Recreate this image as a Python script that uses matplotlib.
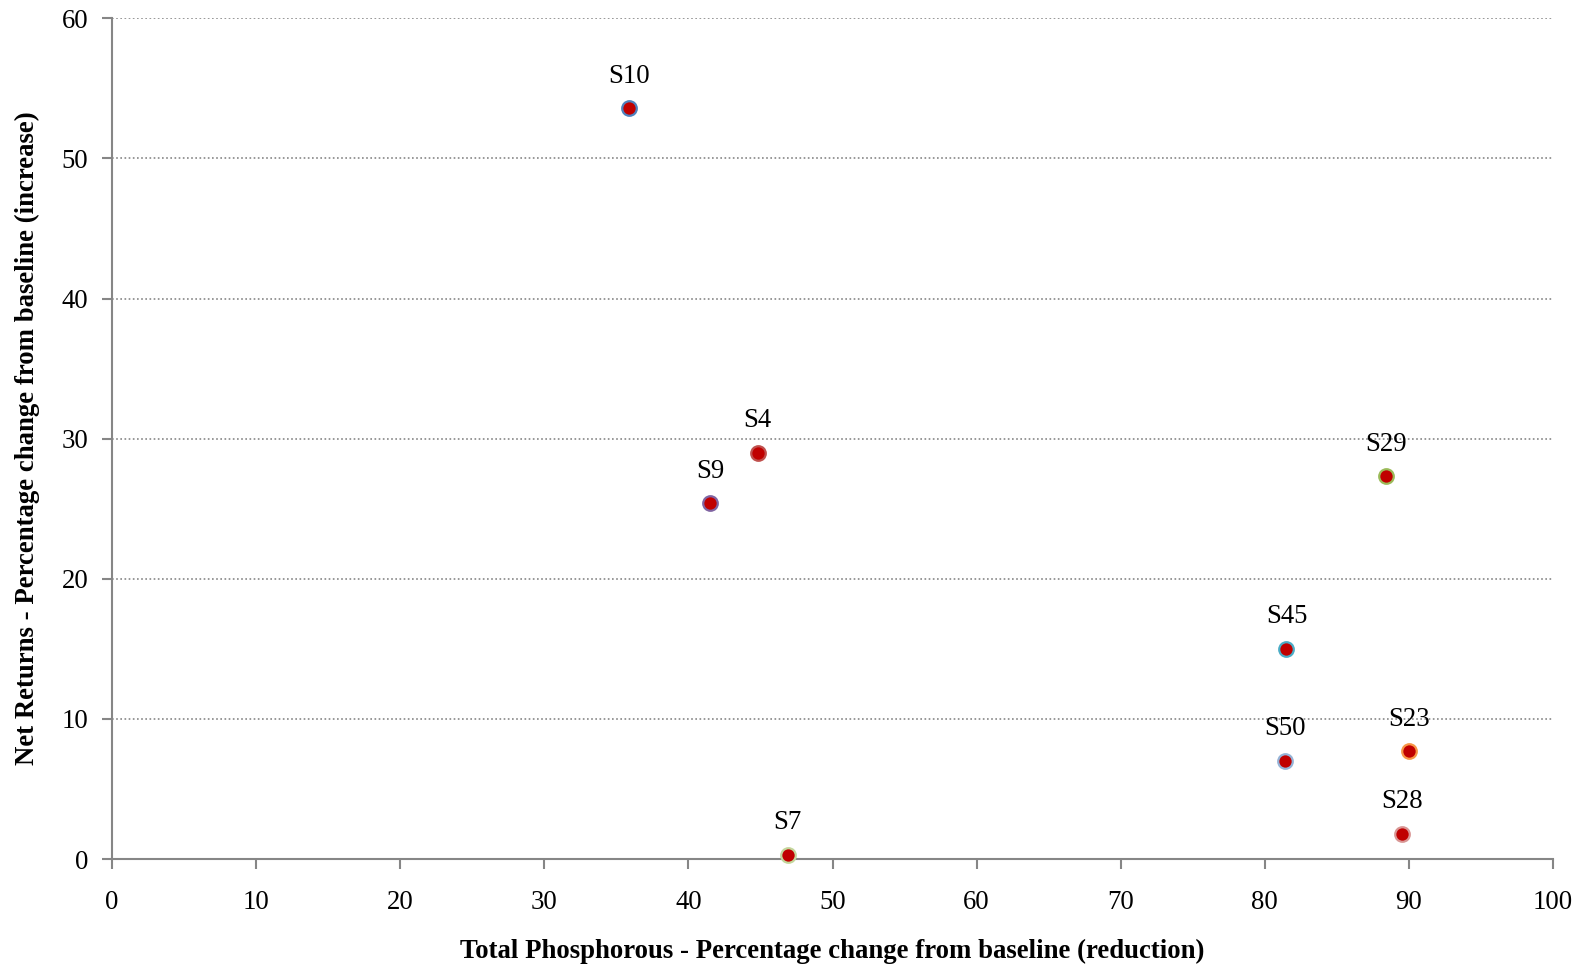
import matplotlib
matplotlib.use("Agg")
import matplotlib.pyplot as plt

# scenario results
labels = ["S10", "S4", "S9", "S29", "S45", "S50", "S23", "S28", "S7"]
tp_reduction = [35.9, 44.8, 41.5, 88.4, 81.5, 81.4, 90.0, 89.5, 46.9]
net_returns = [53.6, 29.0, 25.4, 27.3, 15.0, 7.0, 7.7, 1.8, 0.3]
edge_colors = ["#4F81BD", "#C0504D", "#8064A2", "#9BBB59", "#4BACC6",
               "#95B3D7", "#F79646", "#D99694", "#C3D69B"]

plt.rcParams["font.family"] = ["Liberation Serif", "DejaVu Serif"]

fig = plt.figure(figsize=(15.95, 9.68), dpi=100)
ax = fig.add_axes([0.0702, 0.1126, 0.9035, 0.8685])

for x, y, lab, ec in zip(tp_reduction, net_returns, labels, edge_colors):
    ax.scatter(x, y, s=110, color="#C00000", edgecolors=ec, linewidths=1.6,
               zorder=3, clip_on=False)
    ax.annotate(lab, (x, y), xytext=(0, 23), textcoords="offset points",
                ha="center", va="center", fontsize=19.3)

ax.set_xlim(0, 100)
ax.set_ylim(0, 60)
ax.set_xticks(range(0, 101, 10))
ax.set_yticks(range(0, 61, 10))
ax.tick_params(labelsize=19.3, color="#868686", length=7, width=1.5)
ax.tick_params(axis="x", pad=15)
ax.tick_params(axis="y", pad=10)

ax.grid(axis="y", linestyle=(0, (1, 1.5)), color="#868686", linewidth=1.2)
ax.set_axisbelow(True)
for side in ["top", "right"]:
    ax.spines[side].set_visible(False)
for side in ["left", "bottom"]:
    ax.spines[side].set_color("#868686")
    ax.spines[side].set_linewidth(1.5)

ax.set_xlabel("Total Phosphorous - Percentage change from baseline (reduction)",
              fontsize=19.3, fontweight="bold")
ax.set_ylabel("Net Returns - Percentage change from baseline (increase)",
              fontsize=19.3, fontweight="bold")
ax.xaxis.label.set_va("center")
ax.yaxis.label.set_va("center")
ax.xaxis.set_label_coords(0.5, -0.1094)
ax.yaxis.set_label_coords(-0.0586, 0.5)

fig.savefig("out.png", dpi=100)
